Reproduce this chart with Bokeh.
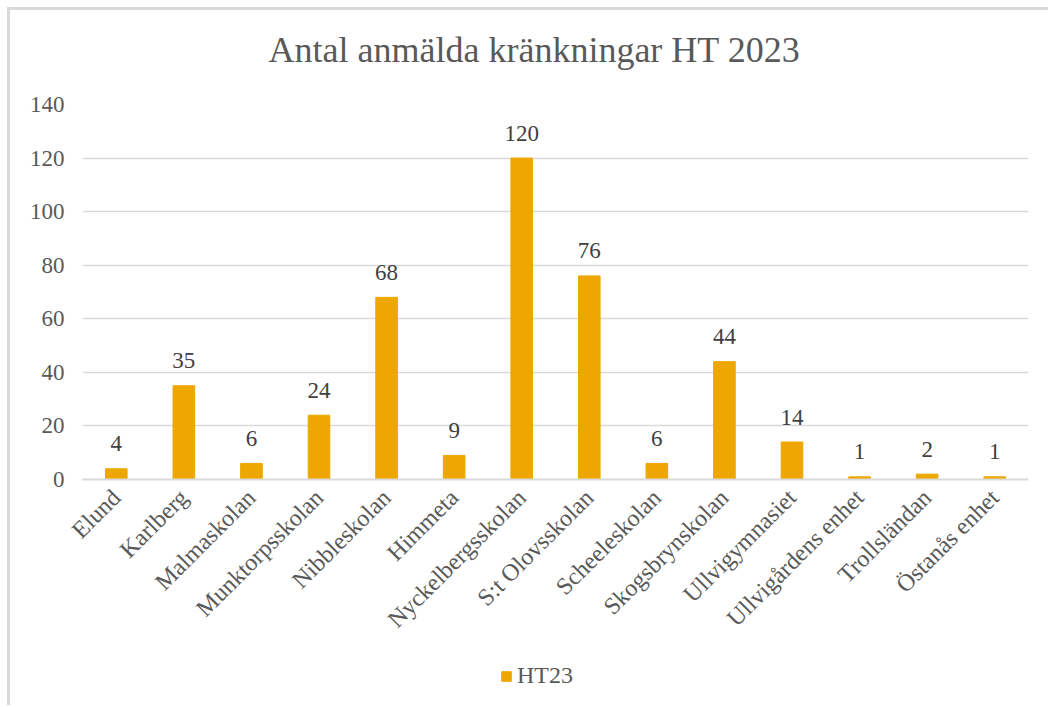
from bokeh.plotting import figure
from bokeh.models import ColumnDataSource, FixedTicker, Range1d, Legend, LegendItem, FactorRange
from bokeh.layouts import column
from bokeh.embed import file_html
from bokeh.resources import INLINE
from bokeh.core.properties import value
import math

title_text = "Antal anmälda kränkningar HT 2023"
series_name = "HT23"
schools = ["Elund", "Karlberg", "Malmaskolan", "Munktorpsskolan", "Nibbleskolan",
           "Himmeta", "Nyckelbergsskolan", "S:t Olovsskolan", "Scheeleskolan",
           "Skogsbrynskolan", "Ullvigymnasiet", "Ullvigårdens enhet", "Trollsländan",
           "Östanås enhet"]
counts = [4, 35, 6, 24, 68, 9, 120, 76, 6, 44, 14, 1, 2, 1]
y_ticks = [0, 20, 40, 60, 80, 100, 120, 140]

FONT = "Liberation Serif"
BAR = "#EEA700"
GREY = "#595959"

src = ColumnDataSource(dict(cat=schools, val=counts, lbl=[str(v) for v in counts]))

# title strip
t = figure(x_range=FactorRange(*schools, range_padding=0), y_range=Range1d(500, 501),
           width=1038, height=80, output_backend="svg", toolbar_location=None,
           x_axis_type=None, y_axis_type=None, min_border=0,
           outline_line_color=None, background_fill_color="white", border_fill_color="white")
t.grid.visible = False
t.title.text = title_text
t.title.align = "left"
t.title.offset = 186
t.title.standoff = 35
t.title.text_font = FONT
t.title.text_font_size = "36px"
t.title.text_font_style = "normal"
t.title.text_color = GREY
t.vbar(x="cat", top="val", source=src, width=0.32, color=BAR)

p = figure(x_range=FactorRange(*schools, range_padding=0), y_range=Range1d(0, 140),
           width=1038, height=570, title=None,
           output_backend="svg", toolbar_location=None,
           min_border_left=72, min_border_right=20, min_border_top=14, min_border_bottom=181,
           outline_line_color=None, background_fill_color="white", border_fill_color="white")

bars = p.vbar(x="cat", top="val", source=src, width=0.32, color=BAR)
p.text(x="cat", y="val", text="lbl", source=src, y_offset=-25, text_align="center",
       text_baseline="middle", text_font=value(FONT), text_font_size="23px", text_color="#404040")

p.yaxis.ticker = FixedTicker(ticks=y_ticks)
p.yaxis.axis_line_color = None
p.yaxis.major_tick_line_color = None
p.yaxis.minor_tick_line_color = None
p.yaxis.major_tick_out = 0
p.yaxis.major_label_standoff = 18
p.yaxis.major_label_text_font = FONT
p.yaxis.major_label_text_font_size = "23px"
p.yaxis.major_label_text_color = GREY

p.xaxis.axis_line_color = "#d9d9d9"
p.xaxis.axis_line_width = 2
p.xaxis.major_tick_line_color = None
p.xaxis.major_tick_out = 0
p.xaxis.major_label_standoff = 14
p.xaxis.major_label_orientation = math.pi / 4
p.xaxis.major_label_text_font = FONT
p.xaxis.major_label_text_font_size = "24px"
p.xaxis.major_label_text_color = GREY

p.xgrid.grid_line_color = None
p.ygrid.grid_line_color = "#d9d9d9"
p.ygrid.grid_line_width = 1.5

# legend strip below the chart (same series, its bars lie outside this strip's view)
q = figure(x_range=FactorRange(*schools, range_padding=0), y_range=Range1d(500, 501),
           width=1038, height=45, output_backend="svg", toolbar_location=None,
           x_axis_type=None, y_axis_type=None, min_border=0,
           outline_line_color=None, background_fill_color="white", border_fill_color="white")
q.grid.visible = False
qbars = q.vbar(x="cat", top="val", source=src, width=0.32, color=BAR)

lg = Legend(items=[LegendItem(label=series_name, renderers=[qbars])],
            location=(418, 16), orientation="horizontal")
lg.border_line_color = None
lg.background_fill_alpha = 0
lg.padding = 0
lg.margin = 0
lg.glyph_width = 12
lg.glyph_height = 12
lg.label_standoff = 5
lg.label_text_font = FONT
lg.label_text_font_size = "24px"
lg.label_text_color = GREY
q.add_layout(lg, "center")

layout = column(t, p, q, spacing=0)
layout.styles = {"margin-left": "7px", "margin-top": "7px",
                 "border-left": "3px solid #d9d9d9", "border-top": "3px solid #d9d9d9"}

open("out.html", "w").write(file_html(layout, INLINE))
